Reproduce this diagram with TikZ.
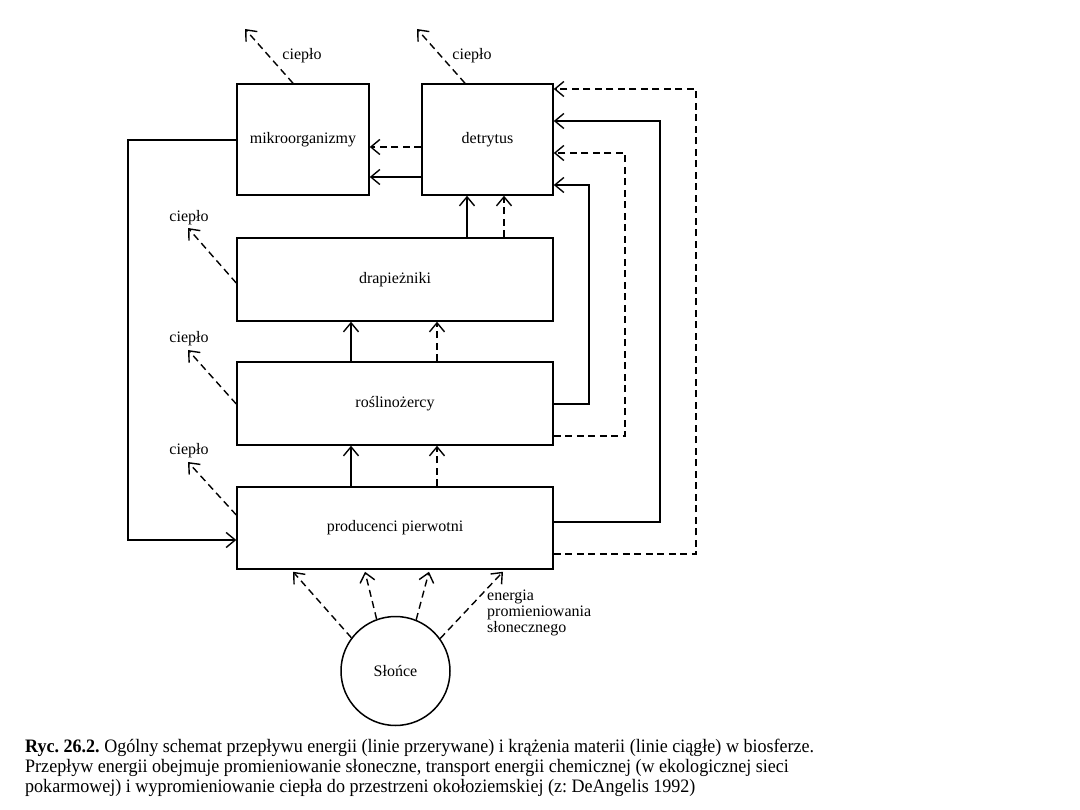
\documentclass[tikz,border=0pt]{standalone}
\usepackage{fontspec}
\setmainfont{Liberation Serif}
\newfontfamily\capfont[FakeStretch=0.95]{Liberation Serif}
\usetikzlibrary{arrows.meta,calc}
\begin{document}
\frenchspacing
\begin{tikzpicture}[x=1pt,y=-1pt,
  >={Straight Barb[length=9pt,width=15pt]},
  box/.style={draw,line width=1.5pt,inner sep=0pt,font=\fontsize{16}{18}\selectfont},
  solidarrow/.style={->,line width=1.4pt},
  dasharrow/.style={->,line width=1.4pt,dash pattern=on 7pt off 4.5pt},
  heat/.style={font=\fontsize{16}{18}\selectfont,inner sep=1pt},
  captext/.style={anchor=west,inner sep=0pt,font=\capfont\fontsize{19}{20}\selectfont}
]
\useasboundingbox (0,0) rectangle (1080,810);
\fill[white] (0,0) rectangle (1080,810);

% boxes
\node[box,minimum width=132pt,minimum height=111pt] (mik) at (303,139.5) {mikroorganizmy};
\node[box,minimum width=131pt,minimum height=111pt] (det) at (487.5,139.5) {detrytus};
\node[box,minimum width=316pt,minimum height=83pt] (drap) at (395,279.5) {drapieżniki};
\node[box,minimum width=316pt,minimum height=83pt] (rosl) at (395,403.5) {roślinożercy};
\node[box,minimum width=316pt,minimum height=82pt] (prod) at (395,528) {producenci pierwotni};
\node[box,circle,minimum size=109pt] (sun) at (395.5,671) {Słońce};

% heat outputs
\coordinate (hmik) at (245,29);
\coordinate (hdet) at (417,29);
\coordinate (hdrap) at (188,228);
\coordinate (hrosl) at (188,350);
\coordinate (hprod) at (188,462);
\draw[dasharrow] (mik.north -| 293,0) -- (hmik);
\draw[dasharrow] (det.north -| 465,0) -- (hdet);
\draw[dasharrow] (drap.west |- 0,283) -- (hdrap);
\draw[dasharrow] (rosl.west |- 0,404) -- (hrosl);
\draw[dasharrow] (prod.west |- 0,515) -- (hprod);
\node[heat] (tmik) at (302,56) {ciepło};
\node[heat] (tdet) at (472,56) {ciepło};
\node[heat] (tdrap) at (189,218) {ciepło};
\node[heat] (trosl) at (189,339) {ciepło};
\node[heat] (tprod) at (189,451) {ciepło};

% detrytus -> mikroorganizmy
\draw[dasharrow] (det.west |- 0,147) -- (mik.east |- 0,147);
\draw[solidarrow] (det.west |- 0,177) -- (mik.east |- 0,177);

% vertical flows
\draw[solidarrow] (drap.north -| 467,0) -- (det.south -| 467,0);
\draw[dasharrow] (drap.north -| 504,0) -- (det.south -| 504,0);
\draw[solidarrow] (rosl.north -| 351,0) -- (drap.south -| 351,0);
\draw[dasharrow] (rosl.north -| 437,0) -- (drap.south -| 437,0);
\draw[solidarrow] (prod.north -| 351,0) -- (rosl.south -| 351,0);
\draw[dasharrow] (prod.north -| 437,0) -- (rosl.south -| 437,0);

% mikroorganizmy -> producenci
\coordinate (l1) at (128,140);
\coordinate (l2) at (128,540);
\draw[solidarrow] (mik.west |- l1) -- (l1) -- (l2) -- (prod.west |- l2);

% right loops
\coordinate (r1a) at (696,554); \coordinate (r1b) at (696,89);
\coordinate (r2a) at (660,522); \coordinate (r2b) at (660,121);
\coordinate (r3a) at (625,436); \coordinate (r3b) at (625,153);
\coordinate (r4a) at (589,404); \coordinate (r4b) at (589,185);
\draw[dasharrow] (prod.east |- r1a) -- (r1a) -- (r1b) -- (det.east |- r1b);
\draw[solidarrow] (prod.east |- r2a) -- (r2a) -- (r2b) -- (det.east |- r2b);
\draw[dasharrow] (rosl.east |- r3a) -- (r3a) -- (r3b) -- (det.east |- r3b);
\draw[solidarrow] (rosl.east |- r4a) -- (r4a) -- (r4b) -- (det.east |- r4b);

% sun radiation
\draw[dasharrow] (sun.143) -- ($(prod.south -| 293,0)+(0,2)$);
\draw[dasharrow] (sun.110) -- ($(prod.south -| 365,0)+(0,2)$);
\draw[dasharrow] (sun.68) -- ($(prod.south -| 429,0)+(0,2)$);
\draw[dasharrow] (sun.36) -- ($(prod.south -| 503,0)+(0,2)$);
\node[heat,anchor=north west,align=left,font=\fontsize{16}{16}\selectfont] (tsun) at (486,589) {energia\\promieniowania\\słonecznego};

% caption
\node[captext] (c1) at (25,748) {\textbf{Ryc. 26.2.} Ogólny schemat przepływu energii (linie przerywane) i krążenia materii (linie ciągłe) w biosferze.};
\node[captext] (c2) at (25,768) {Przepływ energii obejmuje promieniowanie słoneczne, transport energii chemicznej (w ekologicznej sieci};
\node[captext] (c3) at (25,788) {pokarmowej) i wypromieniowanie ciepła do przestrzeni okołoziemskiej (z: DeAngelis 1992)};
\end{tikzpicture}
\end{document}
